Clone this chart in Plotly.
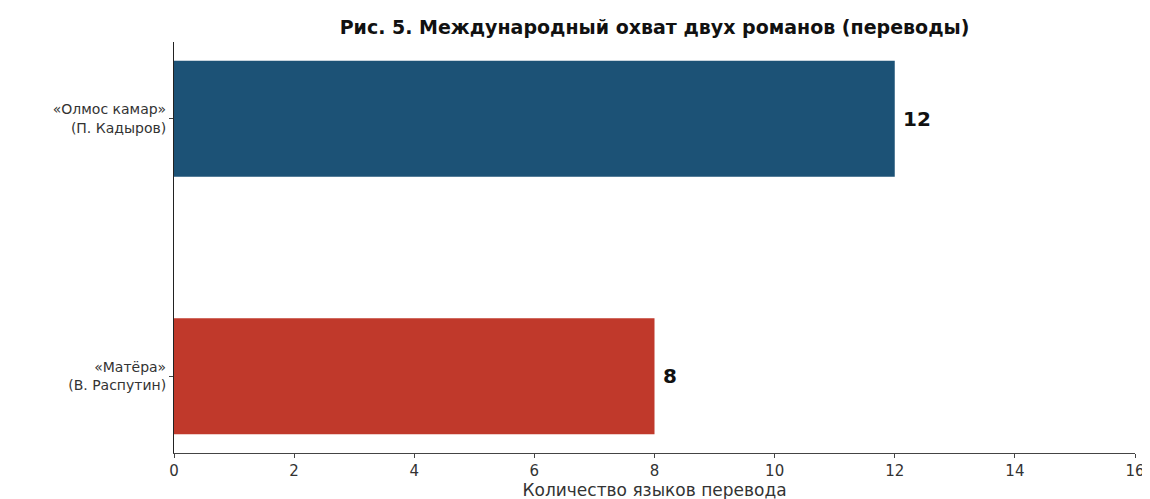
import plotly.graph_objects as go

categories = ["«Матёра»<br>(В. Распутин)", "«Олмос камар»<br>(П. Кадыров)"]
values = [8, 12]
colors = ["#c0392b", "#1c5276"]
title = "Рис. 5. Международный охват двух романов (переводы)"
x_title = "Количество языков перевода"
x_ticks = [0, 2, 4, 6, 8, 10, 12, 14, 16]

ypos = list(range(len(categories)))

# the page body has an 8px margin, so the figure is drawn 8px right/down
fig = go.Figure()
fig.add_trace(go.Bar(
    y=ypos, x=values, orientation="h", width=0.45,
    marker=dict(color=colors, line=dict(width=0)),
    hoverinfo="skip",
))
for yp, v in zip(ypos, values):
    fig.add_annotation(
        x=v, y=yp, xref="x", yref="y", text="<b>%d</b>" % v, showarrow=False,
        xanchor="left", yanchor="middle", xshift=6,
        font=dict(family="DejaVu Sans", size=20, color="#111111"),
    )

fig.update_layout(
    width=1150, height=499,
    margin=dict(l=166, r=23, t=34, b=54, autoexpand=False),
    paper_bgcolor="white", plot_bgcolor="white",
    showlegend=False,
    title=dict(text="<b>" + title + "</b>", x=646.5 / 1150, xanchor="center",
               y=1 - 19 / 499, yanchor="middle",
               font=dict(family="DejaVu Sans", size=19, color="#111111")),
    font=dict(family="DejaVu Sans", size=12, color="#333333"),
)
fig.update_xaxes(
    range=[0, 16], tickvals=x_ticks, ticktext=[str(t) for t in x_ticks],
    showgrid=False, zeroline=False, showline=True, linecolor="#444444", linewidth=1,
    ticks="outside", ticklen=4, tickcolor="#444444", automargin=False,
    tickfont=dict(family="DejaVu Sans", size=15, color="#333333"),
    title=dict(text=x_title, font=dict(family="DejaVu Sans", size=17, color="#333333"), standoff=4),
)
fig.update_yaxes(
    range=[-0.2975, 1.2975], tickvals=ypos, ticktext=categories,
    showgrid=False, zeroline=False, showline=True, linecolor="#222222", linewidth=1,
    ticks="outside", ticklen=4, tickcolor="#444444", automargin=False,
    tickfont=dict(family="DejaVu Sans", size=14, color="#333333"),
)
fig.write_html("out.html")
